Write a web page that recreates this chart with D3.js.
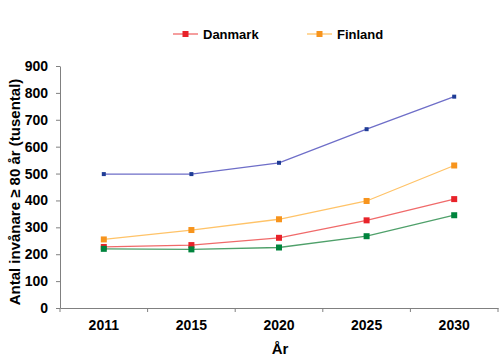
<!DOCTYPE html>
<html><head><meta charset="utf-8">
<script src="https://cdn.jsdelivr.net/npm/d3@7"></script>
<style>body{margin:0;background:#fff}text{font-family:"Liberation Sans",Arial,sans-serif;font-weight:bold}</style>
</head><body>
<script>
const years = ["2011","2015","2020","2025","2030"];
const sverige = [498, 498, 540, 665, 786];
const finland = [255, 290, 330, 398, 530];
const danmark = [227, 234, 261, 326, 405];
const norge = [220, 218, 225, 267, 345];
const yTicks = [0,100,200,300,400,500,600,700,800,900];

const series = [
  {name:"Sverige", values:sverige, line:"#6e6ec8", mark:"#1f3c96", size:4, legend:false},
  {name:"Finland", values:finland, line:"#ffc368", mark:"#f7941d", size:6, legend:true},
  {name:"Danmark", values:danmark, line:"#f06a6a", mark:"#e8232a", size:6, legend:true},
  {name:"Norge", values:norge, line:"#4fa06a", mark:"#00843d", size:6, legend:false}
];

const W=500,H=358;
const svg=d3.select("body").append("svg").attr("width",W).attr("height",H);
const x=d3.scaleBand().domain(years).range([60,498]);
const y=d3.scaleLinear().domain([0,900]).range([308,66]);

// axes
const xa=svg.append("g").attr("transform","translate(0,308)")
  .call(d3.axisBottom(x).tickSize(0).tickPadding(12));
xa.select(".domain").attr("stroke","#808080");
xa.selectAll("text").attr("font-size",14).attr("fill","#000");
svg.append("g").selectAll("line").data(years.concat(["end"])).join("line")
  .attr("x1",(d,i)=>60+i*x.step()).attr("x2",(d,i)=>60+i*x.step())
  .attr("y1",308).attr("y2",312).attr("stroke","#808080");

const ya=svg.append("g").attr("transform","translate(60,0)")
  .call(d3.axisLeft(y).tickValues(yTicks).tickSize(4).tickPadding(8).tickSizeOuter(0));
ya.select(".domain").attr("stroke","#808080");
ya.selectAll(".tick line").attr("stroke","#808080");
ya.selectAll("text").attr("font-size",14).attr("fill","#000");

// titles
svg.append("text").attr("x",280).attr("y",354).attr("text-anchor","middle").attr("font-size",15).text("År");
svg.append("text").attr("transform","translate(20,192) rotate(-90)").attr("text-anchor","middle")
  .attr("font-size",15).text("Antal invånare ≥ 80 år (tusental)");

// lines
const line=d3.line().x((d,i)=>x(years[i])+x.bandwidth()/2).y(d=>y(d));
series.forEach(s=>{
  svg.append("path").datum(s.values).attr("d",line).attr("fill","none").attr("stroke",s.line).attr("stroke-width",1.3);
});
series.forEach(s=>{
  svg.append("g").selectAll("rect").data(s.values).join("rect")
    .attr("x",(d,i)=>x(years[i])+x.bandwidth()/2-s.size/2)
    .attr("y",d=>y(d)-s.size/2).attr("width",s.size).attr("height",s.size).attr("fill",s.mark);
});

// legend
const leg=[{s:series[2],x:173},{s:series[1],x:307}];
leg.forEach(l=>{
  const g=svg.append("g");
  g.append("line").attr("x1",l.x).attr("x2",l.x+25).attr("y1",34).attr("y2",34).attr("stroke",l.s.line).attr("stroke-width",1.3);
  g.append("rect").attr("x",l.x+12.5-3).attr("y",31).attr("width",6).attr("height",6).attr("fill",l.s.mark);
  g.append("text").attr("x",l.x+30).attr("y",38.5).attr("font-size",13).text(l.s.name);
});
</script>
</body></html>
